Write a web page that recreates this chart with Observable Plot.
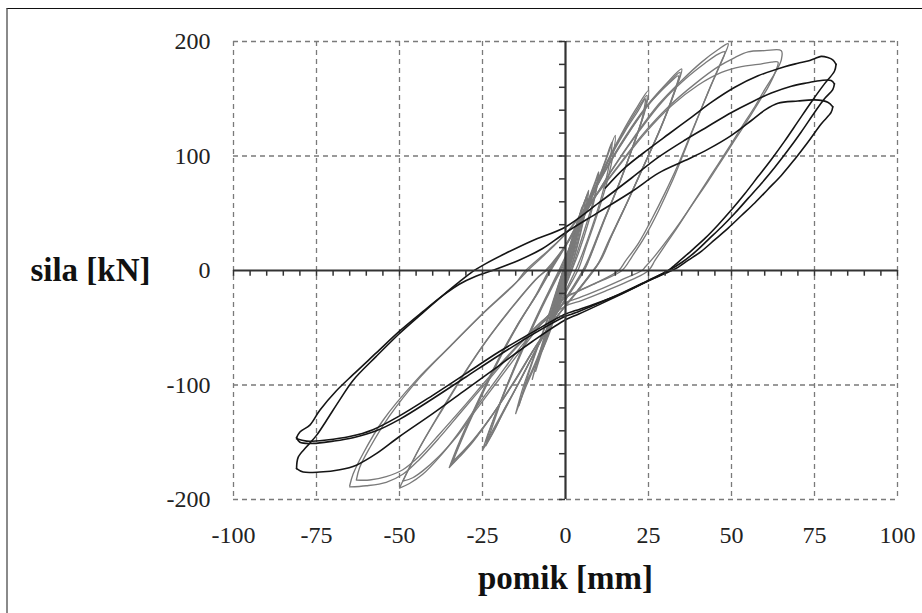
<!DOCTYPE html>
<html><head><meta charset="utf-8">
<script src="https://cdn.jsdelivr.net/npm/d3@7"></script>
<script src="https://cdn.jsdelivr.net/npm/@observablehq/plot@0.6"></script>
<style>
body{margin:0;background:#fff;overflow:hidden;}
#frame{position:absolute;left:6px;top:8px;width:940px;height:640px;border-left:2px solid #8a8a8a;border-top:1.5px solid #111;}
#chart{position:absolute;left:0;top:0;}
</style></head><body><div id="frame"></div><div id="chart"></div>
<script>
// tick values
const xTicks = [-100,-75,-50,-25,0,25,50,75,100];
const yTicks = [-200,-100,0,100,200];
const xGrid = [-100,-75,-50,-25,25,50,75,100];
const yGrid = [-200,-100,100,200];
const xMinor = d3.range(-100,101,5);
const yMinor = d3.range(-200,201,20);

// gray cycles (displacement mm, force kN)
const g3a = [[-3,-32],[-2,-20],[-1,-7],[0,6],[1,18],[2,28],[3,36],[2.5,26],[1.5,12],[0.5,0],[-0.5,-10],[-1.5,-20],[-3,-32]];
const g3b = [[-2.5,-28],[-1.5,-16],[-0.5,-4],[0.5,8],[1.5,20],[2.5,30],[3,33],[2,20],[1,8],[0,-3],[-1,-14],[-2,-22],[-2.5,-28]];
const g4a = [[-4,-40],[-3,-27],[-1.5,-10],[0,5],[1.5,20],[3,35],[4,44],[3.5,32],[2.5,18],[1,3],[-0.5,-10],[-2,-24],[-4,-40]];
const g5a = [[-5,-50],[-3.5,-34],[-2,-16],[0,4],[2,24],[3.5,40],[5,56],[4.5,44],[3,24],[1.5,6],[0,-9],[-2,-26],[-3.5,-39],[-5,-50]];
const g5b = [[-4,-45],[-2.5,-28],[-1,-10],[1,10],[2.5,28],[4,46],[5,53],[3.5,34],[2,15],[0,-6],[-1.5,-20],[-3,-34],[-4,-45]];
const g6a = [[-6,-58],[-4.5,-40],[-2.5,-18],[-0.5,2],[1,16],[3,36],[5,54],[6,62],[5,46],[3.5,26],[1.5,5],[0,-7],[-2,-25],[-4,-44],[-6,-58]];
const g7a = [[-7,-70],[-5.5,-52],[-3.5,-30],[-1.5,-8],[0,8],[2,28],[4,46],[6,62],[7,70],[6,52],[4.5,32],[2.5,10],[1,-3],[-1,-18],[-3,-38],[-5,-56],[-7,-70]];
const g7b = [[-6.5,-64],[-5,-47],[-3,-25],[-1,-3],[0.5,12],[2.5,32],[4.5,50],[6,62],[6.5,66],[5.5,48],[4,28],[2,6],[0.5,-6],[-1.5,-22],[-3.5,-41],[-5,-54],[-6.5,-64]];
const g10a = [[-10,-95],[-8,-74],[-5,-44],[-2,-15],[0,5],[3,30],[6,55],[9,78],[10,86],[9,66],[7,43],[4,16],[2,1],[0,-14],[-3,-37],[-6,-62],[-9,-84],[-10,-95]];
const g10b = [[-9,-88],[-7,-67],[-4,-39],[-1,-11],[1,9],[4,36],[7,61],[9.5,80],[10,83],[8.5,62],[6,38],[3,11],[1.5,-2],[-1,-20],[-4,-45],[-7,-70],[-9,-88]];
const g15a = [[-15,-125],[-13,-104],[-10,-79],[-6,-47],[-3,-20],[0,6],[4,36],[8,66],[12,95],[15,118],[14,96],[12,72],[9,44],[6,19],[4,2],[0,-20],[-4,-45],[-8,-75],[-12,-102],[-15,-125]];
const g15b = [[-14,-118],[-12,-98],[-9,-72],[-5,-40],[-2,-12],[1,12],[5,42],[9,72],[12,96],[14,112],[13,90],[11,66],[8,38],[5,14],[3,0],[-1,-24],[-5,-50],[-9,-80],[-12,-100],[-14,-118]];
const g25a = [[-25,-157],[-23,-140],[-19,-110],[-14,-75],[-9,-42],[-4,-12],[-2,0],[2,25],[7,60],[12,92],[17,120],[21,140],[25,157],[24,140],[21,114],[17,82],[12,46],[8,16],[6,2],[2,-17],[-3,-39],[-8,-64],[-13,-92],[-18,-120],[-22,-142],[-25,-157]];
const g25b = [[-24,-150],[-22,-133],[-18,-104],[-13,-70],[-8,-38],[-3,-9],[-1,2],[3,30],[8,64],[13,96],[18,122],[22,140],[24,150],[23,132],[20,106],[16,75],[11,40],[7,11],[5,-1],[1,-20],[-4,-44],[-9,-70],[-14,-98],[-19,-124],[-22,-140],[-24,-150]];
const g25c = [[-24,-153],[-22,-136],[-18.5,-107],[-13.5,-72],[-8.5,-40],[-3.5,-10],[-1.5,1],[2.5,28],[7.5,62],[12.5,94],[17.5,121],[21.5,140],[24.5,153],[23.5,136],[20.5,110],[16.5,78],[11.5,43],[7.5,13],[5.5,0],[1.5,-18],[-3.5,-41],[-8.5,-67],[-13.5,-95],[-18.5,-122],[-21.5,-140],[-24,-153]];
const g35a = [[-35,-172],[-32,-150],[-27,-118],[-21,-82],[-15,-50],[-9,-22],[-5,0],[0,22],[6,55],[12,88],[18,117],[24,142],[30,162],[35,176],[33,157],[29,127],[24,94],[19,62],[14,31],[11,11],[9,2],[4,-17],[-2,-38],[-8,-62],[-15,-95],[-22,-126],[-28,-150],[-32,-163],[-35,-172]];
const g35b = [[-34,-167],[-31,-146],[-26,-114],[-20,-78],[-14,-46],[-8,-18],[-4,2],[1,26],[7,60],[13,92],[19,120],[25,145],[31,163],[34,170],[32,150],[28,120],[23,88],[18,56],[13,26],[10,7],[8,-1],[3,-20],[-3,-42],[-9,-67],[-16,-100],[-23,-130],[-29,-152],[-32,-161],[-34,-167]];
const g35c = [[-34.5,-170],[-31.5,-148],[-26.5,-116],[-20.5,-80],[-14.5,-48],[-8.5,-20],[-4.5,1],[0.5,24],[6.5,57],[12.5,90],[18.5,118],[24.5,143],[30.5,162],[34.5,173],[32.5,153],[28.5,123],[23.5,91],[18.5,59],[13.5,28],[10.5,9],[8.5,0],[3.5,-18],[-2.5,-40],[-8.5,-64],[-15.5,-97],[-22.5,-128],[-28.5,-151],[-32,-162],[-34.5,-170]];
const g50a = [[-50,-190],[-48,-178],[-44,-155],[-38,-125],[-31,-92],[-24,-62],[-16,-32],[-9,-8],[-6,0],[0,22],[7,55],[14,88],[21,118],[28,145],[35,166],[41,182],[46,193],[49,198],[47,183],[44,163],[41,142],[38,120],[35,98],[32,77],[28,52],[24,30],[20,12],[17,0],[10,-10],[4,-18],[0,-24],[-6,-42],[-13,-65],[-20,-92],[-27,-120],[-33,-145],[-38,-163],[-43,-178],[-47,-186],[-50,-190]];
const g50b = [[-49,-184],[-47,-172],[-43,-150],[-37,-121],[-30,-88],[-23,-58],[-15,-28],[-8,-5],[-5,2],[1,26],[8,60],[15,92],[22,121],[29,147],[36,167],[42,181],[46,189],[48,191],[46,176],[43,156],[40,135],[37,114],[34,93],[30,68],[26,45],[22,24],[18,8],[16,0],[9,-11],[3,-19],[0,-23],[-6,-42],[-13,-68],[-20,-95],[-27,-122],[-33,-146],[-38,-162],[-43,-175],[-46,-181],[-49,-184]];
const g65a = [[-65,-188],[-64,-178],[-61,-160],[-55,-131],[-45,-96],[-35,-67],[-25,-38],[-15,-11],[-12,0],[-5,18],[0,32],[7,58],[15,88],[23,118],[31,143],[39,163],[46,178],[51,186],[55,191],[60,192],[65,192],[65,184],[63,172],[60,158],[57,143],[53,125],[50,111],[46,93],[42,75],[38,57],[34,39],[30,22],[27,9],[25,0],[20,-8],[12,-18],[5,-26],[0,-31],[-7,-46],[-15,-68],[-23,-95],[-31,-122],[-38,-146],[-44,-165],[-49,-178],[-54,-185],[-60,-188],[-65,-189]];
const g65b = [[-63,-183],[-62,-172],[-59,-155],[-53,-127],[-44,-94],[-34,-64],[-24,-35],[-14,-8],[-11,1],[-4,20],[1,35],[8,61],[16,91],[24,120],[32,144],[40,162],[47,173],[53,178],[58,180],[62,182],[64,182],[63,172],[61,160],[58,146],[55,132],[51,114],[47,96],[43,78],[39,61],[35,44],[31,28],[27,13],[24,3],[23,0],[17,-8],[10,-17],[4,-24],[0,-28],[-7,-44],[-15,-67],[-23,-93],[-31,-120],[-38,-143],[-44,-162],[-49,-174],[-54,-180],[-59,-183],[-63,-183]];

// black cycles at ±80 mm
const b0 = [[12,72],[18,90],[25,106],[31,119],[38,134],[44,147],[51,160],[58,170],[66,178],[70,181],[73,183],[75,185],[77,187],[79,186],[80.5,184],[81.5,180]];
const b1 = [[81.5,180],[81,174],[78,163],[74,147],[70,130],[66,113],[62,97],[58,82],[54,67],[50,53],[46,40],[42,28],[37,15],[33,5],[31,0],[25,-9],[18,-19],[10,-30],[4,-38],[0,-43],[-10,-62],[-20,-83],[-30,-104],[-40,-125],[-50,-145],[-57,-160],[-63,-170],[-68,-174],[-74,-176],[-79,-176],[-81,-173]];
const b2u = [[-81,-173],[-80.5,-163],[-78,-154],[-75,-144],[-72,-131],[-68,-113],[-64,-96],[-57,-75],[-50,-55],[-43,-37],[-37,-22],[-32,-10],[-28,-1],[-24,6],[-18,15],[-10,26],[0,38],[10,59],[20,81],[28,99],[36,114],[43,126],[50,138],[56,147],[62,155],[68,161],[73,164],[77,166],[80,166],[81,163]];
const b2l = [[81,163],[80.5,158],[78,150],[75,138],[71,121],[67,105],[63,90],[59,76],[55,63],[51,50],[47,38],[43,27],[39,16],[35,7],[31,0],[24,-10],[16,-21],[8,-31],[3,-37],[0,-40],[-10,-56],[-20,-74],[-30,-93],[-40,-112],[-50,-130],[-57,-140],[-64,-146],[-70,-149],[-76,-151],[-80,-150],[-81,-146]];
const b3u = [[-81,-146],[-80,-141],[-77,-135],[-74,-122],[-69,-105],[-64,-91],[-57,-72],[-50,-53],[-43,-36],[-37,-22],[-32,-12],[-27,-5],[-22,0],[-14,9],[-7,19],[0,33],[10,51],[20,69],[28,85],[36,96],[43,106],[50,118],[56,131],[60,140],[64,146],[70,148],[75,149],[79,147],[80.5,143]];
const b3l = [[80.5,143],[80,138],[77,128],[73,112],[69,97],[65,83],[61,71],[57,59],[53,48],[49,37],[45,27],[41,17],[37,9],[34,3],[32,0],[25,-9],[17,-20],[9,-29],[3,-35],[0,-38],[-10,-54],[-20,-71],[-30,-90],[-40,-109],[-50,-127],[-58,-139],[-65,-145],[-72,-148],[-78,-149],[-81,-147]];

const grayLoops = {g3a,g3b,g4a,g5a,g5b,g6a,g7a,g7b,g10a,g10b,g15a,g15b,g25a,g25b,g25c,g35a,g35b,g35c,g50a,g50b,g65a,g65b};
const blackLoops = {b0,b1,b2u,b2l,b3u,b3l};
const toRows = (obj) => Object.entries(obj).flatMap(([k,pts]) => pts.map(([x,y]) => ({loop:k,x,y})));
const grayRows = toRows(grayLoops);
const blackRows = toRows(blackLoops);

const serif = "'Liberation Serif','Times New Roman',serif";
const chart = Plot.plot({
  width: 922, height: 613,
  marginLeft: 233, marginRight: 25, marginTop: 41, marginBottom: 114,
  x: {domain: [-100, 100]},
  y: {domain: [-200, 200]},
  style: {fontFamily: serif, fontSize: "24px", color: "#222", background: "transparent", overflow: "visible"},
  marks: [
    Plot.ruleX(xGrid, {stroke: "#7a7a7a", strokeWidth: 1.3, strokeDasharray: "5,4"}),
    Plot.ruleY(yGrid, {stroke: "#7a7a7a", strokeWidth: 1.3, strokeDasharray: "5,4"}),
    Plot.line(grayRows, {x: "x", y: "y", z: "loop", stroke: "#7a7a7a", strokeWidth: 1.35, curve: "catmull-rom"}),
    Plot.line(blackRows, {x: "x", y: "y", z: "loop", stroke: "#151515", strokeWidth: 1.6, curve: "catmull-rom"}),
    Plot.ruleY([0], {stroke: "#333", strokeWidth: 2.2}),
    Plot.ruleX([0], {stroke: "#333", strokeWidth: 2.2}),
    Plot.ruleX(xMinor, {x: d => d, y1: 0, y2: -5, stroke: "#333", strokeWidth: 1.5}),
    Plot.ruleY(yMinor, {y: d => d, x1: 0, x2: -1.8, stroke: "#333", strokeWidth: 1.5}),
    Plot.axisX({ticks: xTicks, tickSize: 0, tickPadding: 26, tickFormat: d => String(d), label: null, fontSize: 24}),
    Plot.axisY({ticks: yTicks, tickSize: 0, tickPadding: 23, tickFormat: d => String(d), label: null, fontSize: 24}),
    Plot.text(["sila [kN]"], {text: d => d, frameAnchor: "left", dx: -83, textAnchor: "end", fontWeight: "bold", fontSize: 33, fill: "#111"}),
    Plot.text(["pomik [mm]"], {text: d => d, frameAnchor: "bottom", dy: 89, fontWeight: "bold", fontSize: 33, fill: "#111"})
  ]
});
document.getElementById("chart").appendChild(chart);
</script></body></html>
